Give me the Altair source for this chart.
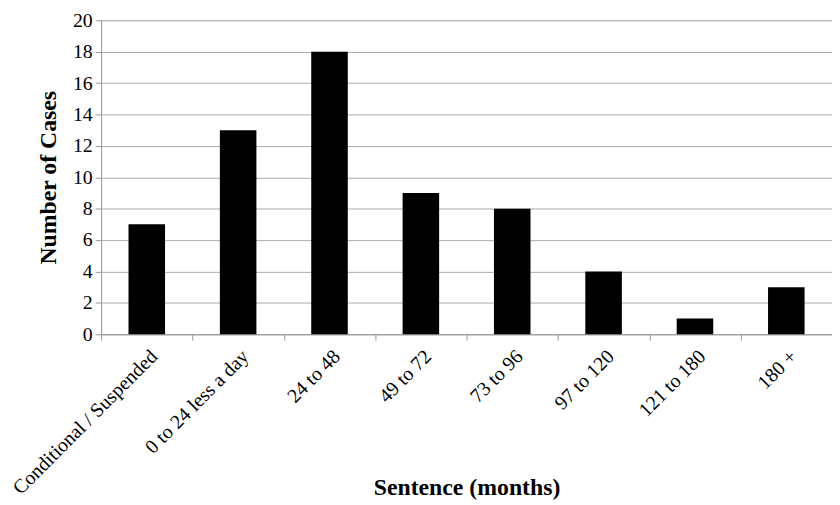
import altair as alt
import pandas as pd

categories = ["Conditional / Suspended", "0 to 24 less a day", "24 to 48", "49 to 72",
              "73 to 96", "97 to 120", "121 to 180", "180 +"]
cases = [7, 13, 18, 9, 8, 4, 1, 3]

df = pd.DataFrame({"Sentence": categories, "Cases": cases})

FONT = "Liberation Serif"

chart = alt.Chart(df).mark_bar(
    color="black", width=alt.RelativeBandSize(0.4)
).encode(
    x=alt.X("Sentence:N", sort=categories,
            scale=alt.Scale(paddingInner=0, paddingOuter=0),
            axis=alt.Axis(title="Sentence (months)", labelAngle=-45, tickBand="extent",
                          labelFontSize=20, labelFont=FONT, labelColor="black",
                          titleFont=FONT, titleFontSize=24, titleFontWeight="bold",
                          titleColor="black", domainColor="#999999", tickColor="#999999",
                          tickSize=6, labelPadding=6, titleY=143, titleBaseline="top",
                          grid=False, labelLimit=400)),
    y=alt.Y("Cases:Q", scale=alt.Scale(domain=[0, 20]),
            axis=alt.Axis(title="Number of Cases", values=list(range(0, 21, 2)),
                          labelFontSize=20, labelFont=FONT, labelColor="black",
                          titleFont=FONT, titleFontSize=24, titleFontWeight="bold",
                          titleColor="black", domainColor="#999999", tickColor="#999999",
                          gridColor="#aaaaaa", gridWidth=1, tickSize=6, labelPadding=3,
                          titlePadding=12)),
).properties(
    width=738, height=317,
    autosize=alt.AutoSizeParams(type="none"),
    padding={"left": 94, "top": 10, "right": 0, "bottom": 170},
).configure_view(stroke=None).configure(background="white")

chart.save("out.html", embed_options={"renderer": "svg", "actions": False})
